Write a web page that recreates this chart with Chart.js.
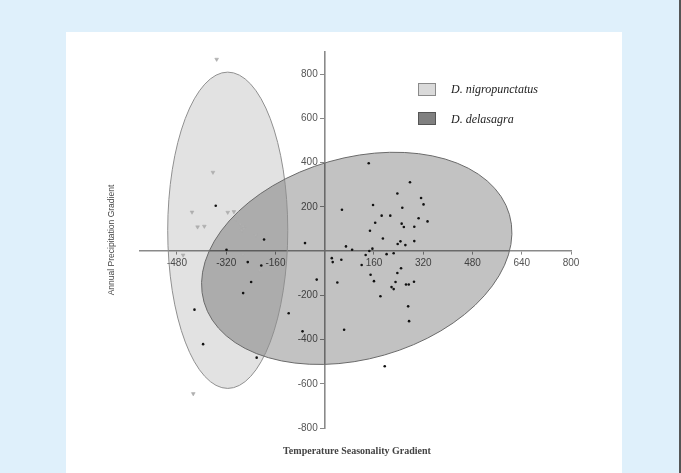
<!DOCTYPE html>
<html>
<head>
<meta charset="utf-8">
<script src="https://cdn.jsdelivr.net/npm/chart.js@4/dist/chart.umd.min.js"></script>
<style>
  html, body { margin: 0; padding: 0; }
  body { width: 681px; height: 473px; background: #dff0fb; position: relative; overflow: hidden; }
  #panel { position: absolute; left: 66px; top: 32px; width: 556px; height: 441px; background: #ffffff; }
  #edge { position: absolute; left: 679px; top: 0; width: 2px; height: 473px; background: #555; }
  #c { position: absolute; left: 0; top: 0; }
  .lbox { position: absolute; width: 18px; height: 13px; box-sizing: border-box; }
  .ltxt { position: absolute; font-family: "Liberation Serif", serif; font-style: italic; font-size: 12px; color: #222; line-height: 14px; white-space: nowrap; }
  #xtitle { position: absolute; left: 257px; width: 200px; top: 445px; text-align: center; font-family: "Liberation Serif", serif; font-weight: bold; font-size: 10px; color: #444; white-space: nowrap; }
  #ytitle { position: absolute; left: 11px; top: 234px; width: 200px; text-align: center; font-family: "Liberation Sans", sans-serif; font-size: 8.5px; color: #444; white-space: nowrap; transform: rotate(-90deg); transform-origin: 100px 6px; line-height: 12px; }
</style>
</head>
<body>
<div id="panel"></div>
<div id="edge"></div>
<canvas id="c" width="681" height="473"></canvas>
<div class="lbox" style="left:418px;top:83px;background:#dadada;border:1px solid #8a8a8a;"></div>
<div class="ltxt" style="left:451px;top:82px;">D. nigropunctatus</div>
<div class="lbox" style="left:418px;top:112px;background:#808080;border:1px solid #555;"></div>
<div class="ltxt" style="left:451px;top:112px;">D. delasagra</div>
<div id="xtitle">Temperature Seasonality Gradient</div>
<div id="ytitle">Annual Precipitation Gradient</div>
<script>
// ---- data ----
const xTickValues = [-480, -320, -160, 160, 320, 480, 640, 800];
const yTickValues = [-800, -600, -400, -200, 200, 400, 600, 800];

const nigroX = [-351, -363, -431, -315, -295, -289, -413, -391, -274, -265, -270, -263, -224, -266, -211, -460, -427];
const nigroY = [867, 356, 176, 175, 178, 145, 109, 112, 121, 112, 94, 101, 72, -15, -87, -18, -645];

const delaX = [-354, -197, -64, -319, -250, -206, -239, -265, -26, 41, -423, -117, -72, 63, -395, -221,
  143, 277, 236, 313, 157, 321, 56, 252, 185, 213, 305, 334, 164, 250, 257, 291, 147, 189, 246, 291, 237, 262,
  69, 89, 155, 145, 133, 201, 224, 23, 26, 54, 120, 248, 236, 149, 160, 230, 290, 264, 273, 217, 224, 181, 271, 274, 195];
const delaY = [205, 52, 36, 6, -50, -65, -140, -190, -129, -142, -265, -281, -363, -356, -421, -482,
  397, 311, 260, 240, 208, 211, 187, 196, 160, 160, 148, 134, 128, 124, 109, 110, 92, 57, 44, 45, 32, 27,
  21, 6, 11, 0, -18, -14, -10, -32, -50, -39, -63, -78, -99, -107, -136, -140, -139, -151, -151, -163, -172, -204, -250, -317, -521];

// ellipses: centre and two conjugate semi-axis vectors, in data units
const ellipseCenterX = [-315, 104];
const ellipseCenterY = [94, -33];
const ellipseAxisA = [[195, 0], [496, 198]];
const ellipseAxisB = [[0, 715], [90, -437]];

const ellipseFill = ['rgba(0,0,0,0.115)', 'rgba(0,0,0,0.24)'];
const ellipseStroke = ['#8f8f8f', '#6a6a6a'];

const toPts = (xs, ys) => xs.map((x, i) => ({x: x, y: ys[i]}));

const ellipsePlugin = {
  id: 'ellipses',
  beforeDatasetsDraw(chart) {
    const {ctx, scales: {x, y}} = chart;
    const geo = ellipseCenterX.map((cx, i) => {
      const px = x.getPixelForValue(cx), py = y.getPixelForValue(ellipseCenterY[i]);
      const ax = x.getPixelForValue(cx + ellipseAxisA[i][0]) - px;
      const ay = y.getPixelForValue(ellipseCenterY[i] + ellipseAxisA[i][1]) - py;
      const bx = x.getPixelForValue(cx + ellipseAxisB[i][0]) - px;
      const by = y.getPixelForValue(ellipseCenterY[i] + ellipseAxisB[i][1]) - py;
      return [ax, ay, bx, by, px, py];
    });
    const path = (g) => {
      ctx.save();
      ctx.transform(g[0], g[1], g[2], g[3], g[4], g[5]);
      ctx.beginPath();
      ctx.arc(0, 0, 1, 0, Math.PI * 2);
      ctx.restore();
    };
    geo.forEach((g, i) => { path(g); ctx.fillStyle = ellipseFill[i]; ctx.fill(); });
    geo.forEach((g, i) => { path(g); ctx.strokeStyle = ellipseStroke[i]; ctx.lineWidth = 1; ctx.stroke(); });
  }
};

const tickFont = {family: 'Liberation Sans, sans-serif', size: 10};

new Chart(document.getElementById('c'), {
  type: 'scatter',
  data: {
    datasets: [
      {
        label: 'D. nigropunctatus',
        data: toPts(nigroX, nigroY),
        pointStyle: 'triangle',
        rotation: 180,
        pointRadius: 2.2,
        backgroundColor: '#b0b0b0',
        borderColor: '#a8a8a8',
        borderWidth: 0.5
      },
      {
        label: 'D. delasagra',
        data: toPts(delaX, delaY),
        pointStyle: 'circle',
        pointRadius: 1.3,
        backgroundColor: '#111',
        borderColor: '#111',
        borderWidth: 0
      }
    ]
  },
  options: {
    responsive: false,
    animation: false,
    devicePixelRatio: 1,
    layout: {padding: {left: 140, right: 110, top: 52, bottom: 45}},
    plugins: {legend: {display: false}, tooltip: {enabled: false}},
    scales: {
      x: {
        type: 'linear',
        min: -600, max: 800,
        position: {y: 0},
        afterBuildTicks: (axis) => { axis.ticks = xTickValues.map(v => ({value: v})); },
        ticks: {font: tickFont, color: '#555', padding: 3, maxRotation: 0, callback: (v) => String(v)},
        grid: {display: true, drawOnChartArea: false, drawTicks: true, tickLength: 3, color: '#888', lineWidth: 1},
        border: {display: true, color: '#8a8a8a', width: 1.6}
      },
      y: {
        type: 'linear',
        min: -800, max: 900,
        position: {x: 0},
        afterBuildTicks: (axis) => { axis.ticks = yTickValues.map(v => ({value: v})); },
        ticks: {font: tickFont, color: '#555', padding: 3, callback: (v) => String(v) + '\u2002\u2009'},
        grid: {display: true, drawOnChartArea: false, drawTicks: true, tickLength: 4, color: '#888', lineWidth: 1},
        border: {display: true, color: '#8a8a8a', width: 1.6}
      }
    }
  },
  plugins: [ellipsePlugin]
});
</script>
</body>
</html>
